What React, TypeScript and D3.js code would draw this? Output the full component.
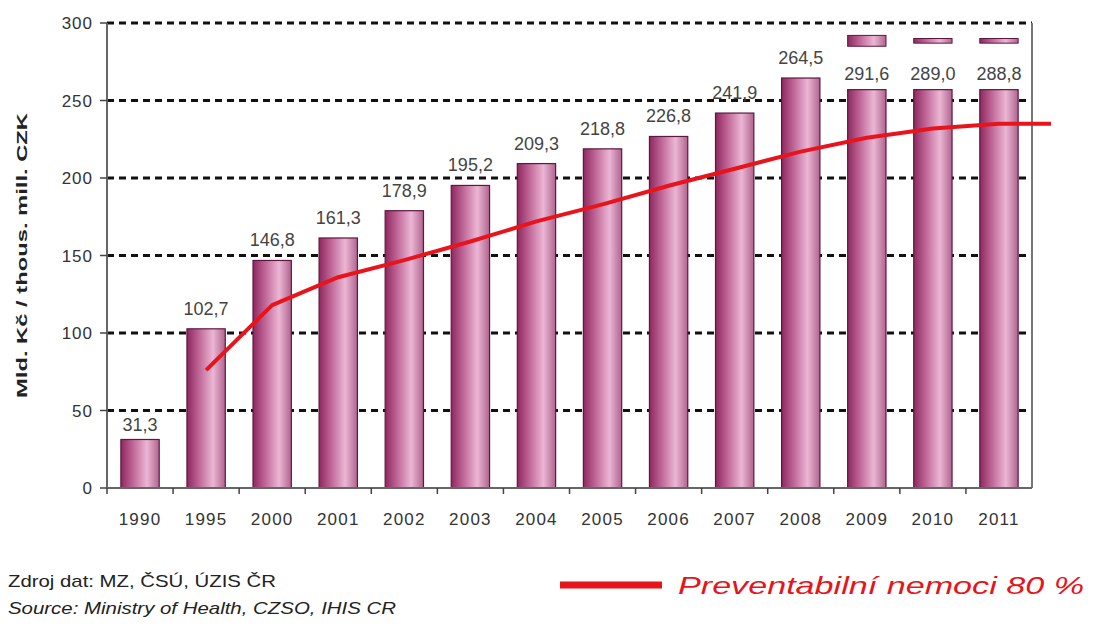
import * as d3 from "d3";

const years = ["1990", "1995", "2000", "2001", "2002", "2003", "2004", "2005", "2006", "2007", "2008", "2009", "2010", "2011"];
const spending = [31.3, 102.7, 146.8, 161.3, 178.9, 195.2, 209.3, 218.8, 226.8, 241.9, 264.5, 291.6, 289.0, 288.8];
// bars above the break are drawn cut off at this value, with a small stub near the top
const breakAt = 257;
const stubLo = [null, null, null, null, null, null, null, null, null, null, null, 285, 287, 287];
const stubHi = [null, null, null, null, null, null, null, null, null, null, null, 292, 290, 290];
const preventYears = ["1995", "2000", "2001", "2002", "2003", "2004", "2005", "2006", "2007", "2008", "2009", "2010", "2011"];
const preventable = [76, 118, 136, 147, 159, 172, 183, 195, 206, 217, 226, 232, 235];
const yTicks = [0, 50, 100, 150, 200, 250, 300];

const W = 1096;
const H = 633;
const mg = { top: 23, right: 64, bottom: 145, left: 107 };
const font = "Arial, 'Liberation Sans', sans-serif";

export default function App() {
  const x = d3
    .scaleBand<string>()
    .domain(years)
    .range([mg.left, W - mg.right])
    .paddingInner(0.42)
    .paddingOuter(0.21);
  const y = d3.scaleLinear().domain([0, 300]).range([H - mg.bottom, mg.top]);
  const bw = x.bandwidth();
  const y0 = y(0);

  const pts: [number, number][] = preventYears.map((yr, i) => [x(yr)! + bw / 2, y(preventable[i])]);
  const last = pts[pts.length - 1];
  pts.push([last[0] + 52, last[1]]);
  const line = d3.line().curve(d3.curveLinear)(pts);

  return (
    <svg width={W} height={H} style={{ position: "absolute", left: 0, top: 0, background: "#fff" }} fontFamily={font}>
      <defs>
        <linearGradient id="barGrad" x1="0" x2="1" y1="0" y2="0">
          <stop offset="0" stopColor="#8e2860" />
          <stop offset="0.3" stopColor="#bd6394" />
          <stop offset="0.68" stopColor="#ebb6d4" />
          <stop offset="1" stopColor="#b0648e" />
        </linearGradient>
      </defs>

      {/* gridlines */}
      {yTicks.filter((t) => t > 0).map((t) => (
        <line key={t} x1={mg.left} x2={W - mg.right} y1={y(t)} y2={y(t)} stroke="#111" strokeWidth={3} strokeDasharray="7 5" />
      ))}
      <line x1={W - mg.right} x2={W - mg.right} y1={mg.top} y2={y0} stroke="#777" strokeWidth={2} />

      {/* bars */}
      {years.map((yr, i) => {
        const v = spending[i];
        const broken = stubLo[i] != null;
        const shown = broken ? breakAt : v;
        const bx = x(yr)!;
        return (
          <g key={yr}>
            <rect x={bx} y={y(shown)} width={bw} height={y0 - y(shown)} fill="url(#barGrad)" stroke="#5e1840" strokeWidth={1.2} />
            {broken && (
              <rect x={bx} y={y(stubHi[i]!)} width={bw} height={y(stubLo[i]!) - y(stubHi[i]!)} fill="url(#barGrad)" stroke="#5e1840" strokeWidth={1} />
            )}
            <text
              x={bx + bw / 2}
              y={broken ? y(breakAt) - 10 : y(shown) - (i === 0 ? 8 : 14)}
              textAnchor="middle"
              fontSize={18}
              fill="#444"
            >
              {v.toFixed(1).replace(".", ",")}
            </text>
          </g>
        );
      })}

      {/* axes */}
      <line x1={mg.left} x2={mg.left} y1={mg.top} y2={y0} stroke="#666" strokeWidth={2} />
      <line x1={mg.left} x2={W - mg.right} y1={y0} y2={y0} stroke="#666" strokeWidth={2} />
      {yTicks.map((t) => (
        <g key={t}>
          <line x1={mg.left - 7} x2={mg.left} y1={y(t)} y2={y(t)} stroke="#444" strokeWidth={1.5} />
          <text x={mg.left - 14} y={y(t) + 6} textAnchor="end" fontSize={17} fill="#333" letterSpacing={1}>
            {t}
          </text>
        </g>
      ))}
      {years.map((yr) => (
        <g key={yr}>
          <line x1={x(yr)! - (x.step() - bw) / 2} x2={x(yr)! - (x.step() - bw) / 2} y1={y0} y2={y0 + 6} stroke="#444" strokeWidth={1.5} />
          <text x={x(yr)! + bw / 2} y={y0 + 37} textAnchor="middle" fontSize={17} fill="#333" letterSpacing={1.2}>
            {yr}
          </text>
        </g>
      ))}
      <text
        transform={`translate(27, ${(mg.top + y0) / 2}) rotate(-90)`}
        textAnchor="middle"
        fontSize={15}
        fontWeight="bold"
        fill="#222"
        textLength={285}
        lengthAdjust="spacingAndGlyphs"
      >
        Mld. Kč / thous. mill. CZK
      </text>

      {/* preventable line */}
      <path d={line ?? ""} fill="none" stroke="#e8141c" strokeWidth={4} strokeLinejoin="round" />

      {/* source and legend */}
      <text x={8} y={587} fontSize={17} fill="#222" textLength={268} lengthAdjust="spacingAndGlyphs">
        Zdroj dat: MZ, ČSÚ, ÚZIS ČR
      </text>
      <text x={8} y={614} fontSize={17} fill="#222" fontStyle="italic" textLength={388} lengthAdjust="spacingAndGlyphs">
        Source: Ministry of Health, CZSO, IHIS CR
      </text>
      <line x1={560} x2={662} y1={585} y2={585} stroke="#e8141c" strokeWidth={7} />
      <text x={678} y={594} fontSize={24} fill="#e8141c" fontStyle="italic" textLength={406} lengthAdjust="spacingAndGlyphs">
        Preventabilní nemoci 80 %
      </text>
    </svg>
  );
}
